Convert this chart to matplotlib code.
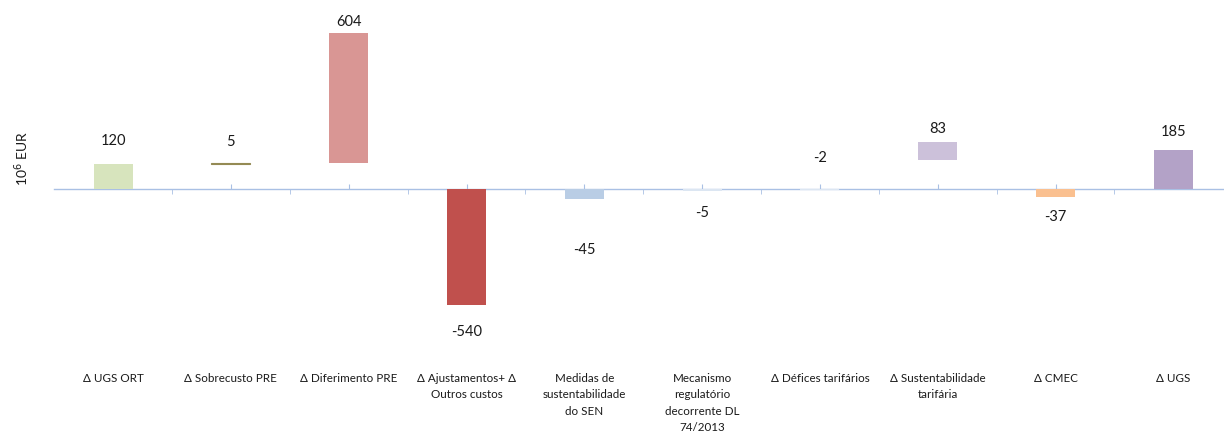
import matplotlib.pyplot as plt
import matplotlib.transforms as mtransforms
import numpy as np

plt.rcParams['font.family'] = ['Lato', 'DejaVu Sans']

# categories (x labels) and values (10^6 EUR)
categories = [
    'Δ UGS ORT',
    'Δ Sobrecusto PRE',
    'Δ Diferimento PRE',
    'Δ Ajustamentos+ Δ\nOutros custos',
    'Medidas de\nsustentabilidade\ndo SEN',
    'Mecanismo\nregulatório\ndecorrente DL\n74/2013',
    'Δ Défices tarifários',
    'Δ Sustentabilidade\ntarifária',
    'Δ CMEC',
    'Δ UGS',
]
values = [120, 5, 604, -540, -45, -5, -2, 83, -37, 185]
colors = ['#D7E4BD', '#948A54', '#D99694', '#C0504D', '#B9CDE5',
          '#DCE6F2', '#DCE6F2', '#CCC1DA', '#FAC090', '#B3A2C7']

# label offsets from bar end, in pixels (as placed in the original)
label_offset = [23, 21, 11, -27, -51, -22, 32, 13, -20, 18]

fig = plt.figure(figsize=(12.24, 4.41), dpi=100)
W, H = 1224, 441
x0_px, step_px = 54.2, 117.8
ax = fig.add_axes([x0_px / W, (H - 339.3) / H, 10 * step_px / W, 329.6 / H])

x = np.arange(len(values))
bottoms = []
heights = []
cum = 0
for i, v in enumerate(values):
    if i == len(values) - 1:
        bottoms.append(0)
    elif v >= 0:
        bottoms.append(cum)
    else:
        # negative parts stack from zero (as in the original sheet)
        bottoms.append(0)
    heights.append(v)
    cum += v

bars = ax.bar(x, heights, bottom=bottoms, width=0.33, color=colors, zorder=2)
bars[1].set_edgecolor(colors[1])
bars[1].set_linewidth(0.8)

for i, (b, h) in enumerate(zip(bottoms, heights)):
    end = b + h
    ax.annotate(str(values[i]), xy=(x[i], end), xytext=(0, label_offset[i]),
                textcoords='offset pixels', ha='center', va='center',
                fontsize=10.5, color='#1a1a1a')

ax.set_xlim(-0.5, 9.5)
ax.set_ylim(-700, 840)

for s in ['top', 'right', 'left']:
    ax.spines[s].set_visible(False)
ax.spines['bottom'].set_position(('data', 0))
ax.spines['bottom'].set_color('#A9C0E4')
ax.spines['bottom'].set_linewidth(1.0)
ax.spines['bottom'].set_zorder(1)

ax.set_yticks([])
ax.set_xticks(x)
ax.set_xticks(np.arange(0.5, 9.5, 1), minor=True)
ax.tick_params(axis='x', which='major', direction='in', length=3.5,
               color='#A9C0E4', labelbottom=False)
ax.tick_params(axis='x', which='minor', direction='out', length=3.5,
               color='#A9C0E4')

# category labels at the bottom of the chart
trans = mtransforms.blended_transform_factory(ax.transData, fig.transFigure)
for i, lab in enumerate(categories):
    ax.text(x[i], 1 - 373 / H, lab, transform=trans, ha='center', va='top',
            fontsize=8.4, linespacing=1.6, color='#1a1a1a', clip_on=False)

fig.text(21.7 / W, 1 - 158 / H, '10$^6$ EUR', rotation=90, ha='center',
         va='center', fontsize=10, color='#1a1a1a')

fig.savefig('out.png', dpi=100)
